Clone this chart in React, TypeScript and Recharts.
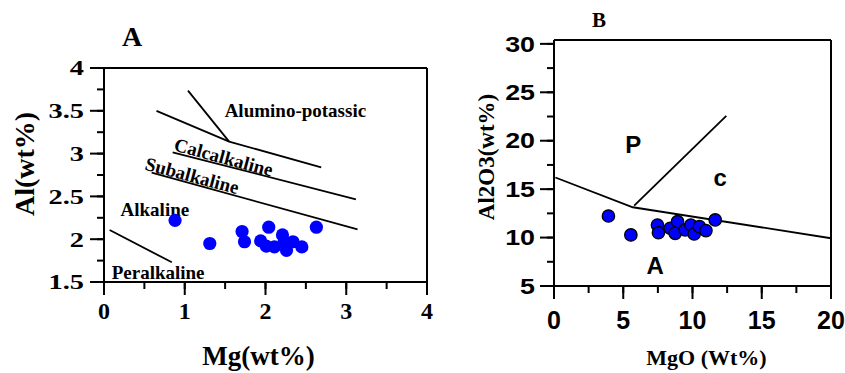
import React from 'react';
import { ScatterChart, Scatter, XAxis, YAxis, ReferenceLine, Label } from 'recharts';

const SERIF = '"Liberation Serif", "Times New Roman", serif';
const SANS = '"Liberation Sans", Arial, sans-serif';

// ---------- Panel A data ----------
const mgA = [0.88, 1.31, 1.71, 1.74, 2.04, 1.94, 2.01, 2.11, 2.21, 2.23, 2.26, 2.34, 2.45, 2.63];
const alA = [2.22, 1.95, 2.09, 1.97, 2.14, 1.98, 1.92, 1.91, 2.05, 1.97, 1.87, 1.97, 1.91, 2.14];

const alkPotLine = [{ x: 1.04, y: 3.735 }, { x: 1.55, y: 3.14 }];
const calcUpperLine = [{ x: 0.65, y: 3.5 }, { x: 1.55, y: 3.14 }, { x: 2.69, y: 2.84 }];
const calcLowerLine = [{ x: 0.85, y: 3.015 }, { x: 3.12, y: 2.466 }];
const subLine = [{ x: 0.59, y: 2.777 }, { x: 3.14, y: 2.116 }];
const perLine = [{ x: 0.07, y: 2.107 }, { x: 0.84, y: 1.73 }];

const fieldTextA = ['Alumino-potassic', 'Calcalkaline', 'Subalkaline', 'Alkaline', 'Peralkaline'];
const fieldXA = [2.37, 1.46, 1.07, 0.63, 0.67];
const fieldYA = [3.43, 2.885, 2.67, 2.275, 1.535];
const fieldAngleA = [0, 15, 15, 0, 0];

const xTicksA = [0, 0.5, 1, 1.5, 2, 2.5, 3, 3.5, 4];
const xTickLabelsA = ['0', '', '1', '', '2', '', '3', '', '4'];
const yTicksA = [1.5, 1.75, 2, 2.25, 2.5, 2.75, 3, 3.25, 3.5, 3.75, 4];
const yTickLabelsA = ['1.5', '', '2', '', '2.5', '', '3', '', '3.5', '', '4'];

// ---------- Panel B data ----------
const mgoB = [3.93, 5.55, 7.47, 7.54, 8.39, 8.92, 8.75, 9.47, 9.88, 10.12, 10.5, 10.97, 11.64];
const al2o3B = [12.23, 10.27, 11.3, 10.5, 10.96, 11.64, 10.44, 10.79, 11.3, 10.37, 11.13, 10.72, 11.82];

const boundaryLine = [{ x: 0.1, y: 16.2 }, { x: 5.69, y: 13.13 }, { x: 20, y: 9.93 }];
const pcLine = [{ x: 5.79, y: 13.3 }, { x: 12.44, y: 22.56 }];

const fieldTextB = ['P', 'c', 'A'];
const fieldXB = [5.72, 12.0, 7.3];
const fieldYB = [18.71, 15.33, 6.24];

const xTicksB = [0, 2.5, 5, 7.5, 10, 12.5, 15, 17.5, 20];
const xTickLabelsB = ['0', '', '5', '', '10', '', '15', '', '20'];
const yTicksB = [5, 7.5, 10, 12.5, 15, 17.5, 20, 22.5, 25, 27.5, 30];
const yTickLabelsB = ['5', '', '10', '', '15', '', '20', '', '25', '', '30'];

// ---------- derived tables ----------
const pointsA = mgA.map((x, i) => ({ x, y: alA[i] }));
const pointsB = mgoB.map((x, i) => ({ x, y: al2o3B[i] }));
const labelsA = fieldTextA.map((text, i) => ({ x: fieldXA[i], y: fieldYA[i], text, angle: fieldAngleA[i] }));
const labelsB = fieldTextB.map((text, i) => ({ x: fieldXB[i], y: fieldYB[i], text, angle: 0 }));

const AXIS = { stroke: '#000', strokeWidth: 2 };
const TICKLINE = { stroke: '#000', strokeWidth: 2 };
const MINOR = 7; // built-in (minor) tick length

function yTickBody(props: any, ticks: number[], labels: string[], family: string, size: number, sx: number, major: number, gap: number) {
  const ax = Number(props.x) + MINOR; // axis line position
  const y = Number(props.y);
  const idx = ticks.indexOf(props.payload.value);
  const lbl = idx >= 0 ? labels[idx] : '';
  if (!lbl) return <g />;
  const tx = ax - gap;
  const ty = y + size * 0.35;
  return (
    <g>
      <line x1={ax} y1={y} x2={ax - major} y2={y} stroke="#000" strokeWidth={2} />
      <text x={tx} y={ty} textAnchor="end" fontFamily={family} fontSize={size} fontWeight="bold" fill="#000"
        transform={`translate(${tx} 0) scale(${sx} 1) translate(${-tx} 0)`}>{lbl}</text>
    </g>
  );
}

function xTickBody(props: any, ticks: number[], labels: string[], family: string, size: number, major: number, base: number) {
  const x = Number(props.x);
  const ay = Number(props.y) - MINOR; // axis line position
  const idx = ticks.indexOf(props.payload.value);
  const lbl = idx >= 0 ? labels[idx] : '';
  if (!lbl) return <g />;
  return (
    <g>
      <line x1={x} y1={ay} x2={x} y2={ay + major} stroke="#000" strokeWidth={2} />
      <text x={x} y={ay + base} textAnchor="middle" fontFamily={family} fontSize={size} fontWeight="bold" fill="#000">{lbl}</text>
    </g>
  );
}

const tickXA = (p: any) => xTickBody(p, xTicksA, xTickLabelsA, SERIF, 24, 13, 37);
const tickYA = (p: any) => yTickBody(p, yTicksA, yTickLabelsA, SERIF, 21, 1.35, 14, 20);
const tickXB = (p: any) => xTickBody(p, xTicksB, xTickLabelsB, SANS, 25, 13, 43);
const tickYB = (p: any) => yTickBody(p, yTicksB, yTickLabelsB, SANS, 22, 1.22, 14, 19);

const noShape = () => <g />;

function lineSeries(data: { x: number; y: number }[], key: string) {
  return (
    <Scatter key={key} data={data} line={{ stroke: '#000', strokeWidth: 1.8 }} lineType="joint" shape={noShape} isAnimationActive={false} />
  );
}

const textShapeA = (props: any) => {
  const { cx, cy, payload } = props;
  return (
    <text x={cx} y={cy} textAnchor="middle" fontFamily={SERIF} fontSize={19} fontWeight="bold" fill="#000"
      transform={payload.angle ? `rotate(${payload.angle} ${cx} ${cy})` : undefined}>{payload.text}</text>
  );
};
const textShapeB = (props: any) => {
  const { cx, cy, payload } = props;
  return (
    <text x={cx} y={cy} textAnchor="middle" fontFamily={SANS} fontSize={24} fontWeight="bold" fill="#000">{payload.text}</text>
  );
};

const dotA = (props: any) => <circle cx={props.cx} cy={props.cy} r={6.6} fill="#0000ff" />;
const dotB = (props: any) => <circle cx={props.cx} cy={props.cy} r={6.2} fill="#0000ff" stroke="#000" strokeWidth={1.3} />;

const xLabelA = (p: any) => {
  const vb = p.viewBox;
  return <text x={vb.x + vb.width / 2 - 7} y={vb.y + 83} textAnchor="middle" fontFamily={SERIF} fontSize={27} fontWeight="bold" fill="#000">Mg(wt%)</text>;
};
const yLabelA = (p: any) => {
  const vb = p.viewBox;
  const x = vb.x - 10;
  const y = vb.y + vb.height / 2 - 11;
  return <text x={x} y={y} textAnchor="middle" transform={`rotate(-90 ${x} ${y})`} fontFamily={SERIF} fontSize={28} fontWeight="bold" fill="#000">Al(wt%)</text>;
};
const titleA = (p: any) => {
  const vb = p.viewBox;
  return <text x={vb.x + 88} y={vb.y - 22} textAnchor="middle" fontFamily={SERIF} fontSize={28} fontWeight="bold" fill="#000">A</text>;
};
const xLabelB = (p: any) => {
  const vb = p.viewBox;
  return <text x={vb.x + vb.width / 2 + 14} y={vb.y + 79} textAnchor="middle" fontFamily={SERIF} fontSize={22} fontWeight="bold" fill="#000">MgO (Wt%)</text>;
};
const yLabelB = (p: any) => {
  const vb = p.viewBox;
  const x = vb.x;
  const y = vb.y + vb.height / 2 - 6;
  return <text x={x} y={y} textAnchor="middle" transform={`rotate(-90 ${x} ${y})`} fontFamily={SERIF} fontSize={23} fontWeight="bold" fill="#000">Al2O3(wt%)</text>;
};
const titleB = (p: any) => {
  const vb = p.viewBox;
  return <text x={vb.x + 105} y={vb.y - 13} textAnchor="middle" fontFamily={SERIF} fontSize={21} fontWeight="bold" fill="#000">B</text>;
};

export default function App() {
  return (
    <div style={{ position: 'absolute', left: 0, top: 0, width: 845, height: 373, background: '#fff' }}>
      <div style={{ position: 'absolute', left: 0, top: 0 }}>
        <ScatterChart width={440} height={373} margin={{ top: 68, right: 13, bottom: 31, left: 44 }}>
          <XAxis type="number" dataKey="x" domain={[0, 4]} ticks={xTicksA} interval={0} height={60}
            axisLine={AXIS} tickLine={TICKLINE} tickSize={MINOR} tickMargin={0} tick={tickXA}>
            <Label content={xLabelA} />
          </XAxis>
          <YAxis type="number" dataKey="y" domain={[1.5, 4]} ticks={yTicksA} interval={0} width={60}
            axisLine={AXIS} tickLine={TICKLINE} tickSize={MINOR} tickMargin={0} tick={tickYA}>
            <Label content={yLabelA} />
            <Label content={titleA} />
          </YAxis>
          <ReferenceLine y={4} stroke="#000" strokeWidth={2} />
          <ReferenceLine x={4} stroke="#000" strokeWidth={2} />
          {lineSeries(alkPotLine, 'l1')}
          {lineSeries(calcUpperLine, 'l2')}
          {lineSeries(calcLowerLine, 'l3')}
          {lineSeries(subLine, 'l4')}
          {lineSeries(perLine, 'l5')}
          <Scatter data={labelsA} shape={textShapeA} isAnimationActive={false} />
          <Scatter data={pointsA} shape={dotA} isAnimationActive={false} />
        </ScatterChart>
      </div>
      <div style={{ position: 'absolute', left: 440, top: 0 }}>
        <ScatterChart width={405} height={373} margin={{ top: 40, right: 14, bottom: 27, left: 54 }}>
          <XAxis type="number" dataKey="x" domain={[0, 20]} ticks={xTicksB} interval={0} height={60}
            axisLine={AXIS} tickLine={TICKLINE} tickSize={MINOR} tickMargin={0} tick={tickXB}>
            <Label content={xLabelB} />
          </XAxis>
          <YAxis type="number" dataKey="y" domain={[5, 30.4]} ticks={yTicksB} interval={0} width={60}
            axisLine={AXIS} tickLine={TICKLINE} tickSize={MINOR} tickMargin={0} tick={tickYB}>
            <Label content={yLabelB} />
            <Label content={titleB} />
          </YAxis>
          <ReferenceLine y={30.4} stroke="#000" strokeWidth={2} />
          <ReferenceLine x={20} stroke="#000" strokeWidth={2} />
          {lineSeries(boundaryLine, 'b1')}
          {lineSeries(pcLine, 'b2')}
          <Scatter data={labelsB} shape={textShapeB} isAnimationActive={false} />
          <Scatter data={pointsB} shape={dotB} isAnimationActive={false} />
        </ScatterChart>
      </div>
    </div>
  );
}
